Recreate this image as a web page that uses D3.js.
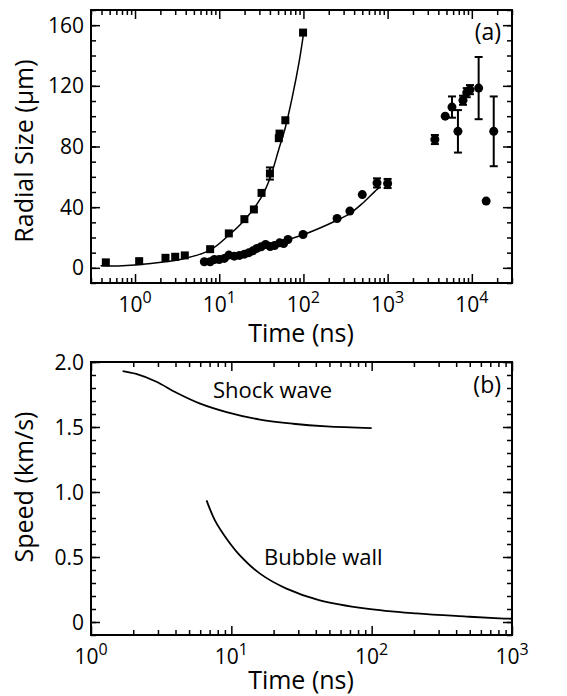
<!DOCTYPE html>
<html lang="en">
<head>
<meta charset="UTF-8">
<title>Radial size and speed</title>
<script src="https://d3js.org/d3.v7.min.js"></script>
<style>
  body { margin: 0; background: #fff; }
  svg { display: block; font-family: "Open Sans", sans-serif; }
</style>
</head>
<body>
<div id="chart"></div>
<script>
// panel (a) data: [time (ns), radius (um), error]
var shockPts = [[0.45,3.6,0],[1.12,4.4,0],[2.3,6.6,0],[3.0,7.3,0],[3.9,8.2,0],[7.8,12.3,0],
  [13,22.7,0],[19.9,32.1,0],[25.8,38.5,0],[31.8,49.4,0],[40,62.2,4],[51,85.5,0],[52,88.5,0],
  [61,97.3,0],[99,155.1,0]];
var bubblePts = [[6.65,4.0,0],[7.8,4.0,0],[8.75,5.5,0],[10,5.5,0],[11.5,6.2,0],[13,8.4,0],
  [15.1,7.7,0],[17.4,8.2,0],[19.9,9.0,0],[22.5,10,0],[25.1,11.2,0],[28,12.8,0],[31.5,13.9,0],
  [35.5,15.4,0],[40.3,14.0,0],[45.4,14.7,0],[52.1,16.5,0],[58.2,16.0,0],[65.5,18.7,0],
  [99,22,0],[251,32.5,0],[356,37.4,0],[500,48.3,0],[748,56,3],[1000,55.6,3]];
var latePts = [[3640,84.6,3],[4830,100,0],[5810,106,7],[6840,90,14],[7850,110.5,3],
  [8700,115.5,3],[9500,117.5,3],[12050,118.5,20.5],[14800,44,0],[18200,90,23]];
var shockFit = [[0.39,1.3],[0.63,1.2],[1.0,1.8],[2.3,4.0],[3.9,6.2],[7.8,11.7],[13,21.5],
  [19.9,31.4],[31.8,46.8],[40,58.9],[51.2,78.5],[61,92.5],[74,113],[89,136],[100,154]];
var bubbleFit = [[6.5,3.2],[10,5.1],[19.9,9.5],[36.7,14.3],[65.5,18.7],[99,21.8],[251,31.4],
  [356,35.8],[500,42.4],[748,51.7],[820,53.4]];

// panel (b) data: [time (ns), speed (km/s)]
var shockSpeed = [[1.68,1.93],[2.1,1.908],[2.9,1.85],[4.1,1.762],[6.0,1.68],[9.25,1.615],
  [16,1.557],[27.5,1.525],[47.6,1.505],[100,1.492]];
var bubbleSpeed = [[6.66,0.936],[7.64,0.782],[9.25,0.641],[11.5,0.513],[16,0.372],[24.7,0.257],
  [42.7,0.167],[91.8,0.103],[208,0.066],[472,0.042],[815,0.028],[1000,0.025]];

var ticksA = [0, 40, 80, 120, 160];
var ticksB = [0, 0.5, 1.0, 1.5, 2.0];
var ticksBLabels = ["0", "0.5", "1.0", "1.5", "2.0"];
var decadesA = [0, 1, 2, 3, 4];
var decadesB = [0, 1, 2, 3];

var W = 567, H = 696;
var svg = d3.select("#chart").append("svg").attr("width", W).attr("height", H);

var L = 91, R = 512;
var xa = d3.scaleLog().domain([0.3, 30000]).range([L, R]);
var ya = d3.scaleLinear().domain([-10, 170]).range([283, 10]);
var xb = d3.scaleLog().domain([1, 1000]).range([L, R]);
var yb = d3.scaleLinear().domain([-0.1, 2.0]).range([635, 362]);

function frame(x, y, yMajor, yMinorStep, yFmt, decades, labY) {
  var g = svg.append("g");
  var x0 = x.range()[0], x1 = x.range()[1], y0 = y.range()[1], y1 = y.range()[0];
  var xMinor = x.ticks().filter(function (d) { return Math.abs(Math.log10(d) - Math.round(Math.log10(d))) > 1e-6; });
  var xMajor = decades.map(function (p) { return Math.pow(10, p); });
  var yMinor = d3.range(y.domain()[0], y.domain()[1] + 1e-9, yMinorStep);

  function axes(gen, pos, vals, size) {
    g.append("g").attr("transform", pos)
      .call(gen.tickValues(vals).tickSize(-size).tickFormat(""))
      .call(function (s) { s.select(".domain").remove(); s.selectAll("line").attr("stroke", "#000").attr("stroke-width", 1.5); });
  }
  axes(d3.axisBottom(x), "translate(0," + y1 + ")", xMajor, 9);
  axes(d3.axisBottom(x), "translate(0," + y1 + ")", xMinor, 5);
  axes(d3.axisTop(x), "translate(0," + y0 + ")", xMajor, 9);
  axes(d3.axisTop(x), "translate(0," + y0 + ")", xMinor, 5);
  axes(d3.axisLeft(y), "translate(" + x0 + ",0)", yMajor, 9);
  axes(d3.axisLeft(y), "translate(" + x0 + ",0)", yMinor, 5);
  axes(d3.axisRight(y), "translate(" + x1 + ",0)", yMajor, 9);
  axes(d3.axisRight(y), "translate(" + x1 + ",0)", yMinor, 5);

  g.append("rect").attr("x", x0).attr("y", y0).attr("width", x1 - x0).attr("height", y1 - y0)
    .attr("fill", "none").attr("stroke", "#000").attr("stroke-width", 2);

  // y tick labels
  g.selectAll(".ylab").data(yMajor).enter().append("text")
    .attr("x", x0 - 7).attr("y", function (d) { return y(d); }).attr("dy", "0.36em")
    .attr("text-anchor", "end").attr("font-size", 21).text(function (d, i) { return yFmt(d, i); });

  // x tick labels with superscripts
  var xl = g.selectAll(".xlab").data(decades).enter().append("text")
    .attr("x", function (p) { return x(Math.pow(10, p)); }).attr("y", labY)
    .attr("text-anchor", "middle").attr("font-size", 21);
  xl.append("tspan").text("10");
  xl.append("tspan").attr("font-size", 16).attr("dy", -9).text(function (p) { return p; });
  return g;
}

frame(xa, ya, ticksA, 10, function (d) { return d; }, decadesA, 312);
frame(xb, yb, ticksB, 0.1, function (d, i) { return ticksBLabels[i]; }, decadesB, 664);

// panel (a) fits
var lineA = d3.line().x(function (d) { return xa(d[0]); }).y(function (d) { return ya(d[1]); }).curve(d3.curveCatmullRom.alpha(0.5));
svg.append("path").datum(shockFit).attr("d", lineA).attr("fill", "none").attr("stroke", "#000").attr("stroke-width", 1.5);
svg.append("path").datum(bubbleFit).attr("d", lineA).attr("fill", "none").attr("stroke", "#000").attr("stroke-width", 1.5);

// error bars
var errPts = shockPts.concat(bubblePts, latePts).filter(function (d) { return d[2] > 0; });
var eb = svg.append("g").attr("stroke", "#000").attr("stroke-width", 2);
errPts.forEach(function (d) {
  var cx = xa(d[0]);
  eb.append("line").attr("x1", cx).attr("x2", cx).attr("y1", ya(d[1] - d[2])).attr("y2", ya(d[1] + d[2]));
  eb.append("line").attr("x1", cx - 4).attr("x2", cx + 4).attr("y1", ya(d[1] - d[2])).attr("y2", ya(d[1] - d[2]));
  eb.append("line").attr("x1", cx - 4).attr("x2", cx + 4).attr("y1", ya(d[1] + d[2])).attr("y2", ya(d[1] + d[2]));
});

svg.append("g").selectAll("rect").data(shockPts).enter().append("rect")
  .attr("x", function (d) { return xa(d[0]) - 4; }).attr("y", function (d) { return ya(d[1]) - 4; })
  .attr("width", 8).attr("height", 8).attr("fill", "#000");
svg.append("g").selectAll("circle").data(bubblePts.concat(latePts)).enter().append("circle")
  .attr("cx", function (d) { return xa(d[0]); }).attr("cy", function (d) { return ya(d[1]); })
  .attr("r", 4.5).attr("fill", "#000");

// panel (b) curves
var lineB = d3.line().x(function (d) { return xb(d[0]); }).y(function (d) { return yb(d[1]); }).curve(d3.curveCatmullRom.alpha(0.5));
svg.append("path").datum(shockSpeed).attr("d", lineB).attr("fill", "none").attr("stroke", "#000").attr("stroke-width", 1.8);
svg.append("path").datum(bubbleSpeed).attr("d", lineB).attr("fill", "none").attr("stroke", "#000").attr("stroke-width", 1.8);

svg.append("text").attr("x", xb(7.4)).attr("y", yb(1.72)).attr("font-size", 22).text("Shock wave");
svg.append("text").attr("x", xb(17.1)).attr("y", yb(0.436)).attr("font-size", 22).text("Bubble wall");

// panel letters
svg.append("text").attr("x", R - 11).attr("y", 40).attr("text-anchor", "end").attr("font-size", 23).text("(a)");
svg.append("text").attr("x", R - 11).attr("y", 393).attr("text-anchor", "end").attr("font-size", 23).text("(b)");

// axis titles
svg.append("text").attr("transform", "translate(33,151) rotate(-90)").attr("text-anchor", "middle")
  .attr("font-size", 25).text("Radial Size (\u00b5m)");
svg.append("text").attr("transform", "translate(33,487) rotate(-90)").attr("text-anchor", "middle")
  .attr("font-size", 25).text("Speed (km/s)");
svg.append("text").attr("x", 301).attr("y", 342).attr("text-anchor", "middle").attr("font-size", 25).text("Time (ns)");
svg.append("text").attr("x", 301).attr("y", 689).attr("text-anchor", "middle").attr("font-size", 25).text("Time (ns)");
</script>
</body>
</html>
